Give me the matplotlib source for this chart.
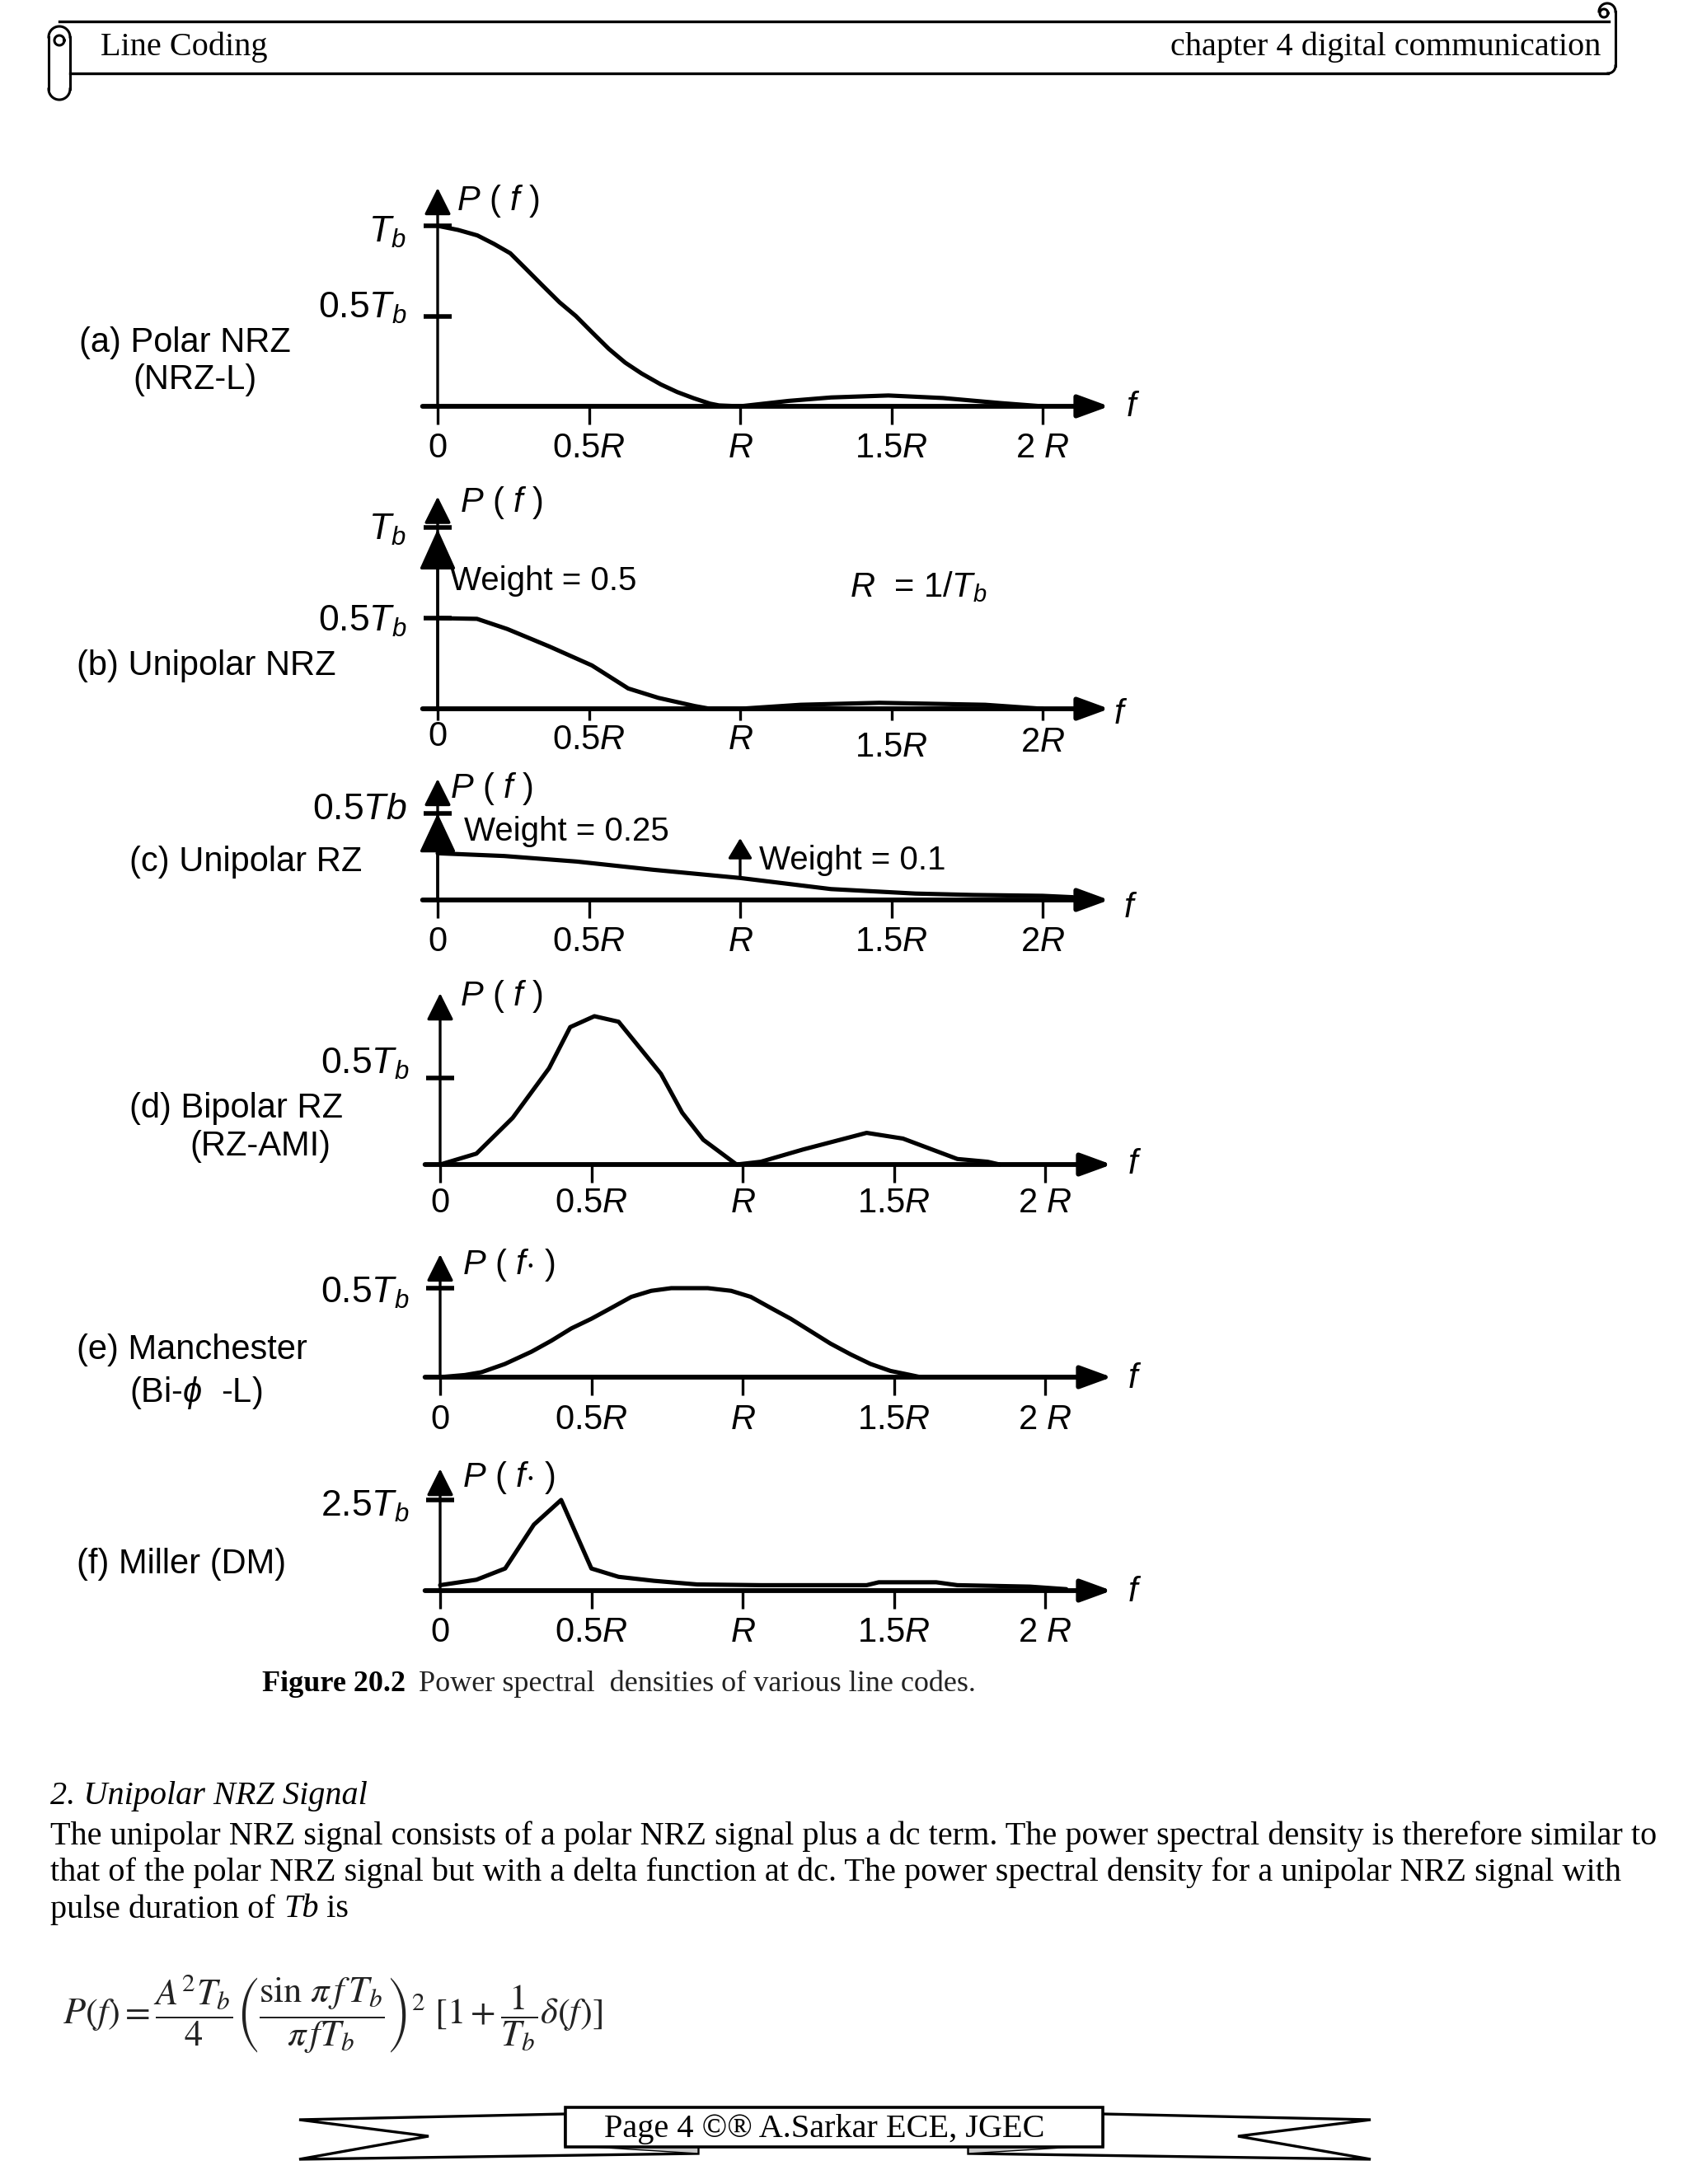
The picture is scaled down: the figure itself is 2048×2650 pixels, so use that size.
import matplotlib
matplotlib.use('Agg')
import matplotlib.pyplot as plt
import numpy as np
from matplotlib.patches import Polygon, Rectangle

W, H = 2048, 2650
PT = 0.72      # points per pixel at dpi 100
XS = 367.0     # pixels per R on every panel

plt.rcParams['font.family'] = ['Liberation Sans', 'DejaVu Sans']
plt.rcParams['mathtext.fontset'] = 'custom'
plt.rcParams['mathtext.rm'] = 'Liberation Sans'
plt.rcParams['mathtext.it'] = 'Liberation Sans:italic'
plt.rcParams['mathtext.bf'] = 'Liberation Sans:bold'

# ---- data (f in units of R, P in units of Tb) ----
a_f = [0, 0.068, 0.131, 0.186, 0.24, 0.294, 0.348, 0.403, 0.457, 0.511, 0.566, 0.62, 0.674,
       0.738, 0.792, 0.846, 0.90, 0.93, 1.0, 1.16, 1.30, 1.49, 1.67, 1.86, 2.0]
a_p = [1.0, 0.977, 0.947, 0.90, 0.848, 0.758, 0.667, 0.576, 0.50, 0.409, 0.318, 0.242, 0.182,
       0.121, 0.079, 0.045, 0.015, 0.005, 0.0, 0.03, 0.049, 0.06, 0.046, 0.018, 0.0]

b_f = [0, 0.13, 0.23, 0.37, 0.51, 0.63, 0.73, 0.85, 0.90, 1.0, 1.2, 1.46, 1.81, 2.0]
b_p = [0.5, 0.496, 0.44, 0.343, 0.239, 0.112, 0.06, 0.015, 0.0, 0.0, 0.022, 0.033, 0.022, 0.0]
b_delta_f = [0]
b_delta_p = [0.99]

c_f = [0, 0.22, 0.46, 0.71, 1.0, 1.30, 1.58, 1.77, 2.0, 2.1]
c_p = [0.27, 0.254, 0.222, 0.175, 0.127, 0.063, 0.037, 0.029, 0.024, 0.016]
c_delta_f = [0, 1.0]
c_delta_base = [0, 0.127]
c_delta_p = [0.5, 0.357]

d_f = [0, 0.12, 0.24, 0.36, 0.43, 0.51, 0.59, 0.73, 0.80, 0.87, 0.98, 1.06, 1.20, 1.41, 1.53, 1.71, 1.81, 1.85]
d_p = [0, 0.063, 0.27, 0.556, 0.794, 0.857, 0.825, 0.524, 0.30, 0.143, 0.0, 0.016, 0.087, 0.183, 0.15, 0.032, 0.016, 0.0]

e_f = [0, 0.082, 0.137, 0.214, 0.302, 0.368, 0.434, 0.50, 0.566, 0.632, 0.698, 0.764, 0.885,
       0.962, 1.027, 1.093, 1.159, 1.225, 1.29, 1.357, 1.423, 1.489, 1.555, 1.588, 2.2]
e_p = [0, 0.012, 0.028, 0.074, 0.143, 0.205, 0.274, 0.328, 0.389, 0.451, 0.485, 0.50, 0.50,
       0.485, 0.451, 0.389, 0.328, 0.258, 0.189, 0.128, 0.074, 0.035, 0.012, 0.0, 0.0]

m_f = [0, 0.12, 0.215, 0.31, 0.40, 0.50, 0.59, 0.707, 0.85, 1.06, 1.41, 1.45, 1.64, 1.71, 1.95, 2.07]
m_p = [0.15, 0.30, 0.61, 1.82, 2.5, 0.61, 0.38, 0.27, 0.17, 0.15, 0.15, 0.23, 0.23, 0.15, 0.11, 0.04]

tick_vals = [0, 0.5, 1.0, 1.5, 2.0]
ticks_sp = ['0', r'0.5$R$', r'$R$', r'1.5$R$', r'2 $R$']
ticks_ns = ['0', r'0.5$R$', r'$R$', r'1.5$R$', r'2$R$']

panel_names = [['(a) Polar NRZ', '(NRZ-L)'], ['(b) Unipolar NRZ'], ['(c) Unipolar RZ'],
               ['(d) Bipolar RZ', '(RZ-AMI)'], ['(e) Manchester', r'(Bi-$\phi$  -L)'], ['(f) Miller (DM)']]

fig = plt.figure(figsize=(W / 100, H / 100), dpi=100)
bg = fig.add_axes([0, 0, 1, 1])
bg.set_xlim(0, W)
bg.set_ylim(H, 0)
bg.axis('off')


def arc(cx, cy, r, a0, a1, **kw):
    t = np.radians(np.linspace(a0, a1, 40))
    bg.plot(cx + r * np.cos(t), cy + r * np.sin(t), color='k', lw=2.2, **kw)


# ---- header scroll ----
bg.plot([72, 1952], [26, 26], color='k', lw=2.4)
bg.plot([85, 1951], [89, 89], color='k', lw=2.4)
bg.plot([1960, 1960], [14, 80], color='k', lw=2.2)
arc(1951, 80, 9, 0, 90)
arc(1950, 14, 10, 0, -180)
arc(1946, 16, 5, 0, 360)
bg.plot([59, 59], [45, 108], color='k', lw=2.2)
bg.plot([85, 85], [45, 108], color='k', lw=2.2)
arc(72, 108, 13, 180, 0)
arc(72, 45, 13, 180, 360)
arc(72, 49, 6, 0, 360)
bg.text(122, 67, 'Line Coding', family='Liberation Serif', fontsize=29, va='baseline')
bg.text(1942, 67, 'chapter 4 digital communication', family='Liberation Serif', fontsize=29,
        va='baseline', ha='right')


def panel(ox, oy, ys, ytop):
    lpx, rpx = 470, 1420
    tpx = oy - ytop * ys - 40
    bpx = oy + 90
    ax = fig.add_axes([lpx / W, 1 - bpx / H, (rpx - lpx) / W, (bpx - tpx) / H])
    ax.set_xlim((lpx - ox) / XS, (rpx - ox) / XS)
    ax.set_ylim((oy - bpx) / ys, (oy - tpx) / ys)
    ax.axis('off')
    ax.patch.set_alpha(0)
    return ax


def arrow(ax, x0, y0, x1, y1, hl, hw, lw):
    ax.annotate('', xy=(x1, y1), xytext=(x0, y0), annotation_clip=False,
                arrowprops=dict(arrowstyle='-|>,head_length=%g,head_width=%g' % (hl, hw),
                                mutation_scale=20, lw=lw, color='k', shrinkA=0, shrinkB=0))


# origin x px, origin y px, px per Tb, y-arrow tip (Tb), ytick levels, ylabels, ylabel dy px,
# tick labels, tick label offsets px, tick length px
panels = [
    (531, 493, 219, 1.21, [1.0, 0.5], [r'$T_b$', r'0.5$T_b$'], [8, -10], ticks_sp, [51] * 5, 22),
    (531, 860, 220, 1.17, [1.0, 0.5], [r'$T_b$', r'0.5$T_b$'], [3, 4], ticks_ns, [34, 38, 38, 47, 41], 14),
    (531, 1092, 210, 0.70, [0.5], [r'0.5$Tb$'], [-5], ticks_ns, [51] * 5, 22),
    (534, 1413, 210, 0.99, [0.5], [r'0.5$T_b$'], [-17], ticks_sp, [47] * 5, 22),
    (534, 1671, 216, 0.69, [0.5], [r'0.5$T_b$'], [6], ticks_sp, [52] * 5, 22),
    (534, 1930, 44, 3.36, [2.5], [r'2.5$T_b$'], [8], ticks_sp, [51] * 5, 22),
]
curves = [(a_f, a_p), (b_f, b_p), (c_f, c_p), (d_f, d_p), (e_f, e_p), (m_f, m_p)]
axes = []
for (ox, oy, ys, ytop, levs, ylabs, ydy, tlabs, toffs, tlen), (cf, cp) in zip(panels, curves):
    ax = panel(ox, oy, ys, ytop)
    axes.append(ax)
    arrow(ax, -0.05, 0, 2.22, 0, 1.15, 0.42, 4.2)
    arrow(ax, 0, 0, 0, ytop, 1.0, 0.5, 2.4)
    ax.vlines(tick_vals, 0, -tlen / ys, color='k', lw=2.4, clip_on=False)
    ax.plot([0] * len(levs), levs, ls='none', marker='_', ms=25, mew=4, color='k', clip_on=False)
    ax.plot(cf, cp, color='k', lw=3.7, solid_joinstyle='round', solid_capstyle='round', clip_on=False)
    for v, lab, off in zip(tick_vals, tlabs, toffs):
        ax.annotate(lab, (v, 0), xytext=(0, -off * PT), textcoords='offset points',
                    ha='center', va='center', fontsize=30)
    for lev, lab, dy in zip(levs, ylabs, ydy):
        ax.annotate(lab, (0, lev), xytext=(-38 * PT, -dy * PT), textcoords='offset points',
                    ha='right', va='center', fontsize=32)

# delta functions
for f0, p0 in zip(b_delta_f, b_delta_p):
    arrow(axes[1], f0, 0, f0, p0, 1.55, 0.7, 2.4)
for f0, p_base, p0 in zip(c_delta_f, c_delta_base, c_delta_p):
    if f0 == 0:
        arrow(axes[2], f0, p_base, f0, p0, 1.5, 0.7, 2.4)
    else:
        arrow(axes[2], f0, p_base, f0, p0, 0.75, 0.45, 2.4)

# ---- labels around the panels ----
name_pos = [[(96, 416, 'left'), (237, 461, 'center')], [(93, 808, 'left')], [(157, 1046, 'left')],
            [(157, 1345, 'left'), (316, 1391, 'center')], [(93, 1638, 'left'), (157, 1690, 'left')],
            [(93, 1898, 'left')]]
for names, poss in zip(panel_names, name_pos):
    for nm, (x, y, ha) in zip(names, poss):
        bg.text(x, y, nm, fontsize=30, ha=ha, va='center')

p_labels = [r'$P$ ( $f$ )'] * 4 + [r'$P$ ( $f$$\cdot$ )'] * 2
p_pos = [(554, 244), (558, 610), (546, 957), (558, 1209), (561, 1535), (561, 1793)]
for lab, (x, y) in zip(p_labels, p_pos):
    bg.text(x, y, lab, fontsize=30, ha='left', va='center')
f_pos = [(1375, 494), (1360, 867), (1372, 1102), (1377, 1413), (1377, 1673), (1377, 1932)]
for x, y in f_pos:
    bg.text(x, y, r'$f$', fontsize=30, ha='center', va='center')

bg.text(546, 705, 'Weight = 0.5', fontsize=29, va='center')
bg.text(1031, 712, r'$R$  = 1/$T_b$', fontsize=30, va='center')
bg.text(563, 1009, 'Weight = 0.25', fontsize=29, va='center')
bg.text(921, 1044, 'Weight = 0.1', fontsize=29, va='center')

# caption
r = fig.canvas.get_renderer()
t = bg.text(318, 2043, 'Figure 20.2', family='Liberation Serif', weight='bold', fontsize=26, va='center')
x1 = t.get_window_extent(r).x1
bg.text(x1 + 16, 2043, 'Power spectral  densities of various line codes.', family='Liberation Serif',
        fontsize=26, va='center', color='#222222')

# ---- body text ----
FS = 29
bg.text(61, 2180, '2. Unipolar NRZ Signal', family='Liberation Serif', style='italic', fontsize=FS, va='center')
body = ['The unipolar NRZ signal consists of a polar NRZ signal plus a dc term. The power spectral density is therefore similar to',
        'that of the polar NRZ signal but with a delta function at dc. The power spectral density for a unipolar NRZ signal with']
for i, line in enumerate(body):
    bg.text(61, 2228 + 44.5 * i, line, family='Liberation Serif', fontsize=FS, va='center')
t = bg.text(61, 2317, 'pulse duration of ', family='Liberation Serif', fontsize=FS, va='center')
x1 = t.get_window_extent(r).x1
t = bg.text(x1, 2317, 'Tb', family='Liberation Serif', style='italic', fontsize=FS, va='center')
x1 = t.get_window_extent(r).x1
bg.text(x1, 2317, ' is', family='Liberation Serif', fontsize=FS, va='center')

formula = (r'$P(f) = \dfrac{A^{2}T_{b}}{4}\left(\dfrac{\sin\,\pi\, f\,T_{b}}{\pi\, f T_{b}}\right)^{2}'
           r'\ [1+\dfrac{1}{T_{b}}\delta(f)]$')
bg.text(76, 2444, formula, fontsize=32, math_fontfamily='stix', va='center', ha='left', color='#222222')

# ---- footer banner ----
left_tail = [(686, 2565), (363, 2572), (520, 2592), (363, 2620), (847, 2613), (847, 2603), (686, 2603)]
right_tail = [(1338, 2565), (1663, 2572), (1502, 2592), (1663, 2620), (1175, 2613), (1175, 2603), (1338, 2603)]
for pts in (left_tail, right_tail):
    bg.add_patch(Polygon(pts, closed=True, fc='white', ec='k', lw=2.4, zorder=2))
bg.add_patch(Polygon([(686, 2603), (847, 2604), (847, 2613)], closed=True, fc='#c8c8c8', ec='k', lw=1, zorder=3))
bg.add_patch(Polygon([(1338, 2603), (1175, 2604), (1175, 2613)], closed=True, fc='#c8c8c8', ec='k', lw=1, zorder=3))
bg.add_patch(Rectangle((686, 2557), 652, 48, fc='white', ec='k', lw=2.6, zorder=4))
bg.text(1000, 2584, 'Page 4 ©® A.Sarkar ECE, JGEC', family='Liberation Serif', fontsize=29,
        ha='center', va='center', zorder=5)

fig.savefig('out.png', dpi=100)
